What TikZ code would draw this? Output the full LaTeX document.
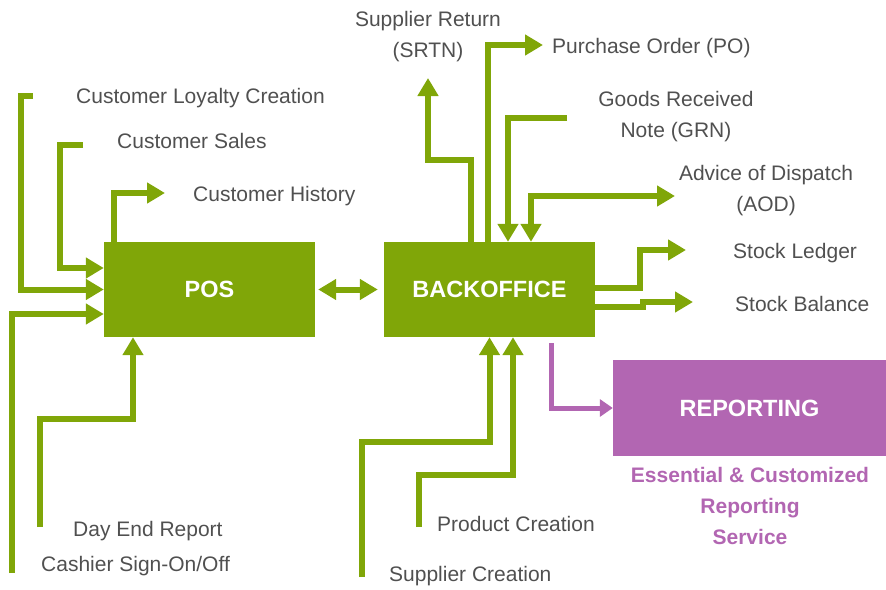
\documentclass[tikz,border=0pt]{standalone}
\usepackage{fontspec}
\setmainfont{Liberation Sans}
\usetikzlibrary{arrows.meta}

\definecolor{posgreen}{RGB}{128,166,8}
\definecolor{reppurple}{RGB}{178,102,178}
\definecolor{lblgray}{RGB}{80,80,80}

\begin{document}
\begin{tikzpicture}[x=1pt, y=-1pt]
		\tikzset{box/.style={rectangle, fill=posgreen, text=white, minimum width=211pt, minimum height=95pt, inner sep=0pt, font=\fontsize{23.5}{28}\selectfont\bfseries}};
		\tikzset{lbl/.style={inner sep=0pt, text=lblgray, align=center, font=\fontsize{21}{31}\selectfont}};
		\tikzset{flow/.style={draw=posgreen, line width=6pt, -{Triangle[length=18pt, width=20pt]}}};
		\tikzset{pflow/.style={draw=reppurple, line width=5pt, -{Triangle[length=13pt, width=17pt]}}};

		\useasboundingbox (0,0) rectangle (886,589);

		\node[box] (pos) at (209.5, 289.5) {POS};
		\node[box] (bo) at (489.5, 289.5) {BACKOFFICE};
		\node[box, fill=reppurple, minimum width=273pt, minimum height=96pt] (rep) at (749.5, 408) {REPORTING};

		\node[lbl, anchor=west] (loy) at (76, 98) {Customer Loyalty Creation};
		\node[lbl, anchor=west] (sales) at (117, 141) {Customer Sales};
		\node[lbl, anchor=west] (hist) at (193, 196) {Customer History};
		\node[lbl] (srtn) at (428, 37) {Supplier Return\\(SRTN)};
		\node[lbl, anchor=west] (po) at (552, 48) {Purchase Order (PO)};
		\node[lbl] (grn) at (676, 116.5) {Goods Received\\Note (GRN)};
		\node[lbl] (aod) at (766, 190.5) {Advice of Dispatch\\(AOD)};
		\node[lbl, anchor=west] (led) at (733, 253) {Stock Ledger};
		\node[lbl, anchor=west] (bal) at (735, 304) {Stock Balance};
		\node[lbl, anchor=west] (day) at (73, 531) {Day End Report};
		\node[lbl, anchor=west] (cash) at (41, 566) {Cashier Sign-On/Off};
		\node[lbl, anchor=west] (prod) at (437, 524) {Product Creation};
		\node[lbl, anchor=west] (supc) at (389, 576) {Supplier Creation};
		\node[lbl, text=reppurple, font=\fontsize{21}{31}\selectfont\bfseries] (reptxt) at (750, 506) {Essential \& Customized\\Reporting\\Service};

		\coordinate (loyS) at (33, 96);
		\coordinate (salesS) at (83, 145);
		\coordinate (histE) at (165, 193);
		\coordinate (cashS) at (12, 573);
		\coordinate (dayS) at (40, 527);
		\coordinate (srtnE) at (428, 78);
		\coordinate (poE) at (543, 45);
		\coordinate (grnS) at (567, 118);
		\coordinate (aodE) at (675, 196);
		\coordinate (ledE) at (686, 250);
		\coordinate (balE) at (693, 302);
		\coordinate (supS) at (362, 577);
		\coordinate (prodS) at (419, 527);

		% into POS
		\draw[flow] (loyS) -- ++(-12, 0) |- (pos.west);
		\draw[flow] (salesS) -- ++(-23, 0) |- ([yshift=21.5pt]pos.west);
		\draw[flow] (cashS) |- ([yshift=-24.5pt]pos.west);
		\draw[flow] (dayS) -- ++(0, -108) -| ([xshift=-76.5pt]pos.south);
		\draw[flow] ([xshift=-95.5pt]pos.north) |- (histE);

		\draw[flow, {Triangle[length=18pt, width=20pt]}-{Triangle[length=18pt, width=20pt]}, shorten <=3pt, shorten >=6pt] (pos.east) -- (bo.west);

		% backoffice top
		\draw[flow] ([xshift=-18.5pt]bo.north) -- ++(0, -82) -| (srtnE);
		\draw[flow] ([xshift=-1.5pt]bo.north) |- (poE);
		\draw[flow] (grnS) -| ([xshift=18.5pt]bo.north);
		\draw[flow, {Triangle[length=18pt, width=20pt]}-{Triangle[length=18pt, width=20pt]}] ([xshift=41.5pt]bo.north) |- (aodE);

		% backoffice right
		\draw[flow] ([yshift=1.5pt]bo.east) -- ++(45, 0) |- (ledE);
		\draw[flow] ([yshift=-17.5pt]bo.east) -- ++(48, 0) -- ++(0, -5) -- (balE);

		% backoffice bottom
		\draw[flow] (supS) -- ++(0, -135) -| (bo.south);
		\draw[flow] (prodS) -- ++(0, -52) -| ([xshift=23.5pt]bo.south);
		\draw[pflow] ([xshift=61.5pt, yshift=-6pt]bo.south) |- (rep.west);
	\end{tikzpicture}
\end{document}
